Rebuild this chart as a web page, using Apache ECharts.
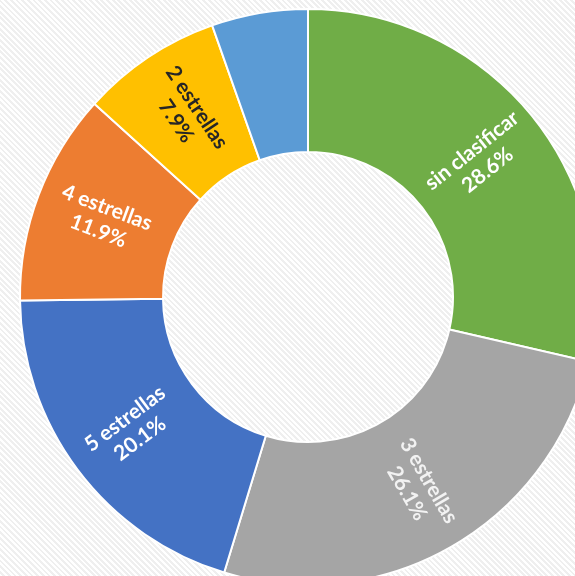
<!DOCTYPE html>
<html>
<head>
<meta charset="utf-8">
<script src="https://cdn.jsdelivr.net/npm/echarts@6/dist/echarts.min.js"></script>
<style>
  html, body { margin: 0; padding: 0; }
  body {
    background: repeating-linear-gradient(45deg, #ffffff 0px, #ffffff 2px, #efefef 2px, #efefef 4px);
  }
  #chart { width: 575px; height: 576px; }
</style>
</head>
<body>
<div id="chart"></div>
<script>
  const categories = ["sin clasificar", "3 estrellas", "5 estrellas", "4 estrellas", "2 estrellas", "1 estrella"];
  const shares = [28.6, 26.1, 20.1, 11.9, 7.9, 5.4];
  const colors = ["#70AD47", "#A5A5A5", "#4472C4", "#ED7D31", "#FFC000", "#5B9BD5"];
  const labelColors = ["#ffffff", "#f2f2f2", "#ffffff", "#ffffff", "#262626", "#ffffff"];

  const chart = echarts.init(document.getElementById("chart"));
  const option = {
    animation: false,
    series: [
      {
        type: "pie",
        center: [308, 297],
        radius: [145, 288],
        startAngle: 90,
        clockwise: true,
        itemStyle: {
          borderColor: "#ffffff",
          borderWidth: 2,
        },
        label: {
          show: true,
          position: "inside",
          rotate: "radial",
          formatter: "{b}\n{c}%",
          fontFamily: "Lato",
          fontWeight: "bold",
          fontSize: 21,
          lineHeight: 25,
        },
        labelLine: { show: false },
        data: categories.map((name, i) => ({
          name: name,
          value: shares[i],
          itemStyle: { color: colors[i] },
          label: { color: labelColors[i], show: i < 5 },
        })),
      },
    ],
  };
  chart.setOption(option);
</script>
</body>
</html>
